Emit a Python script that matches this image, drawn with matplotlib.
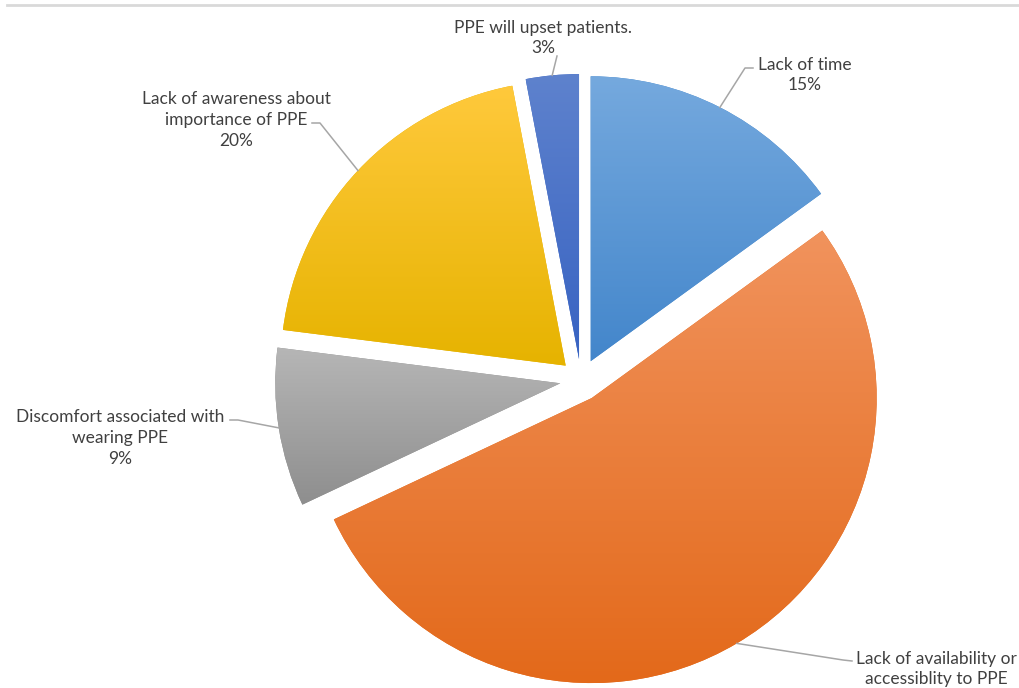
import numpy as np
import matplotlib
matplotlib.use("Agg")
import matplotlib.pyplot as plt
from matplotlib.colors import LinearSegmentedColormap

# data
labels = ["Lack of time",
          "Lack of availability or\naccessiblity to PPE",
          "Discomfort associated with\nwearing PPE",
          "Lack of awareness about\nimportance of PPE",
          "PPE will upset patients."]
values = [15, 53, 9, 20, 3]
show_pct = [True, False, True, True, True]

# gradient colours, top -> bottom
tops = ["#75A9DE", "#F1935D", "#B6B6B6", "#FFC93C", "#5E82CD"]
bottoms = ["#4386CB", "#E3691A", "#8E8E8E", "#E6B300", "#3863C2"]

W, H = 1019, 688
fig = plt.figure(figsize=(W / 100, H / 100), dpi=100)
ax = fig.add_axes([0, 0, 1, 1])

plt.rcParams["font.family"] = ["Lato", "DejaVu Sans"]

cx, cy, R, EXP = 581, H - 380, 285, 21
wedges, _ = ax.pie(values, radius=R, center=(cx, cy), startangle=90,
                   counterclock=False, explode=[EXP] * len(values),
                   frame=True)

grad = np.linspace(0, 1, 256).reshape(-1, 1)
for w, t, b in zip(wedges, tops, bottoms):
    w.set_facecolor(b)
    w.set_edgecolor("none")
    ext = w.get_path().get_extents()
    cmap = LinearSegmentedColormap.from_list("g", [b, t])
    im = ax.imshow(grad, cmap=cmap, extent=[ext.x0, ext.x1, ext.y0, ext.y1],
                   aspect="auto", origin="lower", zorder=2, interpolation="bilinear")
    im.set_clip_path(w)

ax.set_xlim(0, W)
ax.set_ylim(0, H)
ax.set_aspect("equal")
ax.axis("off")

# label layout (screen px): text centre, elbow, line end
text_pos = [(805, 75), (936, 669), (120, 438), (236, 120), (543, 38)]
elbows = [(745, 68), (843, 660), (238, 420), (320, 123), (557, 56)]
ends = [(753, 68), (852, 661), (230, 420), (312, 123), (557, 56)]

for w, lab, v, sp, tp, el, en in zip(wedges, labels, values, show_pct,
                                      text_pos, elbows, ends):
    mid = np.deg2rad((w.theta1 + w.theta2) / 2)
    wx, wy = w.center
    ax_pt = (wx + R * np.cos(mid), wy + R * np.sin(mid))
    xs = [ax_pt[0], el[0], en[0]]
    ys = [ax_pt[1], H - el[1], H - en[1]]
    ax.plot(xs, ys, color="#A6A6A6", lw=1.1, zorder=3)
    txt = lab + (f"\n{v}%" if sp else "")
    ax.text(tp[0], H - tp[1], txt, ha="center", va="center", fontsize=12.5,
            color="#404040", linespacing=1.35, zorder=4)

# top border line
ax.plot([7, W], [H - 5, H - 5], color="#D9D9D9", lw=2, zorder=1)

fig.savefig("out.png", dpi=100)
